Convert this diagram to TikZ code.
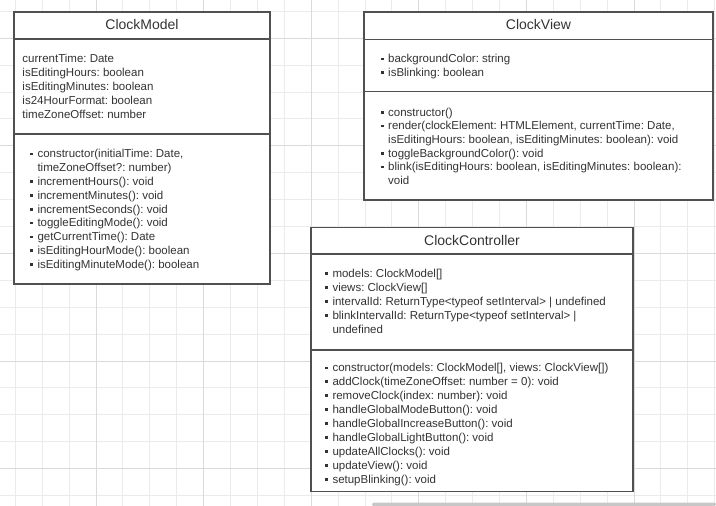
\documentclass[tikz,border=0pt]{standalone}
\usepackage{fontspec}
\setmainfont{Liberation Sans}
\frenchspacing

\definecolor{gridminor}{HTML}{EBEBEB}
\definecolor{gridmajor}{HTML}{DADADA}
\definecolor{boxline}{HTML}{505050}
\definecolor{txt}{HTML}{333333}

\tikzset{
  classbox/.style={draw=boxline, line width=1.3pt, fill=white},
  divider/.style={draw=boxline, line width=1.3pt},
  classtitle/.style={font=\fontsize{14}{16}\selectfont, text=txt, inner sep=0pt},
  member/.style={anchor=base west, font=\fontsize{11.5}{13.8}\selectfont, text=txt, inner sep=0pt},
}

\newcommand{\bul}{\makebox[7.3pt][l]{\rule[2.6pt]{2.6pt}{2.6pt}}}
\newcommand{\cont}{\hspace*{7.3pt}}

\begin{document}
\begin{tikzpicture}[x=1pt,y=-1pt]

\useasboundingbox (0,0) rectangle (716,506);

% grid
\foreach \i in {0,...,26}
  \draw[gridminor, line width=0.8pt] ({15.2+26.9*\i},0) -- ++(0,506);
\foreach \j in {0,...,18}
  \draw[gridminor, line width=0.8pt] (0,{11.2+26.9*\j}) -- ++(716,0);
\foreach \i in {3,7,...,23}
  \draw[gridmajor, line width=0.8pt] ({15.2+26.9*\i},0) -- ++(0,506);
\foreach \j in {1,5,...,17}
  \draw[gridmajor, line width=0.8pt] (0,{11.2+26.9*\j}) -- ++(716,0);

\fill[black!22, rounded corners=1.5pt] (372,502.5) rectangle (716,506);

% ClockModel
\coordinate (CMa) at (14,12);
\coordinate (CMb) at (270,284);
\draw[classbox] (CMa) rectangle (CMb);
\draw[divider] (14,39) -- (270,39);
\draw[divider] (14,134) -- (270,134);
\node[classtitle] (cm-title) at (142,24.3) {ClockModel};

\foreach \m [count=\i from 0] in {currentTime: Date, isEditingHours: boolean,
    isEditingMinutes: boolean, is24HourFormat: boolean, timeZoneOffset: number}
  \node[member] (cm-attr-\i) at (22.3,{62.6+14*\i}) {\m};

\foreach \m [count=\i from 0] in {{\bul constructor(initialTime: Date,},
    \cont timeZoneOffset?: number), \bul incrementHours(): void,
    \bul incrementMinutes(): void, \bul incrementSeconds(): void,
    \bul toggleEditingMode(): void, \bul getCurrentTime(): Date,
    \bul isEditingHourMode(): boolean, \bul isEditingMinuteMode(): boolean}
  \node[member] (cm-op-\i) at (30,{157.7+13.85*\i}) {\m};

% ClockView
\coordinate (CVa) at (364,12);
\coordinate (CVb) at (713,200);
\draw[classbox] (CVa) rectangle (CVb);
\draw[divider] (364,39.3) -- (713,39.3);
\draw[divider] (364,91.7) -- (713,91.7);
\node[classtitle] (cv-title) at (538.5,24.3) {ClockView};

\foreach \m [count=\i from 0] in {\bul backgroundColor: string, \bul isBlinking: boolean}
  \node[member] (cv-attr-\i) at (380.7,{62.7+13.8*\i}) {\m};

\foreach \m [count=\i from 0] in {\bul constructor(),
    {\bul render(clockElement: HTMLElement, currentTime: Date,},
    {\cont isEditingHours: boolean, isEditingMinutes: boolean): void},
    \bul toggleBackgroundColor(): void,
    {\bul blink(isEditingHours: boolean, isEditingMinutes: boolean):},
    \cont void}
  \node[member] (cv-op-\i) at (380.7,{116.1+13.7*\i}) {\m};

% ClockController
\coordinate (CCa) at (311,227.5);
\coordinate (CCb) at (633,491.5);
\draw[classbox] (CCa) rectangle (CCb);
\draw[divider] (311,254) -- (633,254);
\draw[divider] (311,350) -- (633,350);
\node[classtitle] (cc-title) at (472,240.3) {ClockController};

\foreach \m [count=\i from 0] in {\bul models: ClockModel[], \bul views: ClockView[],
    \bul intervalId: ReturnType<typeof setInterval> | undefined,
    \bul blinkIntervalId: ReturnType<typeof setInterval> |,
    \cont undefined}
  \node[member] (cc-attr-\i) at (325,{277.1+14*\i}) {\m};

\foreach \m [count=\i from 0] in {{\bul constructor(models: ClockModel[], views: ClockView[])},
    \bul addClock(timeZoneOffset: number = 0): void,
    \bul removeClock(index: number): void,
    \bul handleGlobalModeButton(): void,
    \bul handleGlobalIncreaseButton(): void,
    \bul handleGlobalLightButton(): void,
    \bul updateAllClocks(): void,
    \bul updateView(): void,
    \bul setupBlinking(): void}
  \node[member] (cc-op-\i) at (325,{371.7+13.96*\i}) {\m};

\end{tikzpicture}
\end{document}
